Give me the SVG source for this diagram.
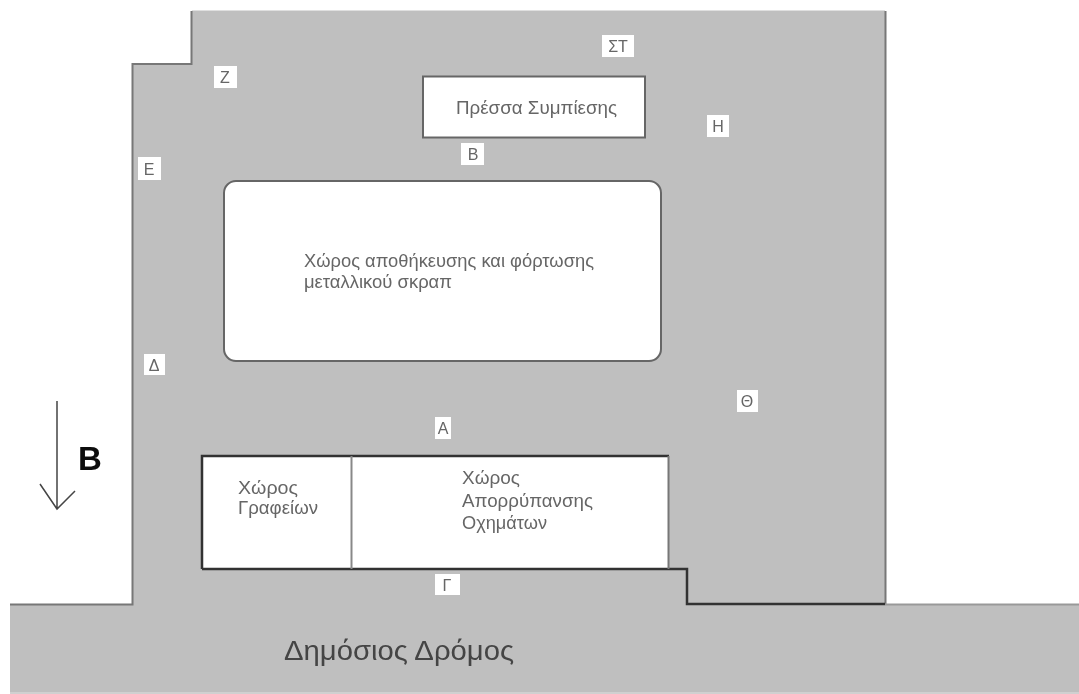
<svg xmlns="http://www.w3.org/2000/svg" width="1079" height="694" viewBox="0 0 1079 694">
<defs><filter id="soft" x="0" y="0" width="100%" height="100%"><feGaussianBlur stdDeviation="0.6"/></filter></defs>
<style>
text{font-family:"Liberation Sans",Arial,sans-serif;fill:#666;font-size:17.500px}
.tag{fill:#fff;stroke:none}
text.t{font-size:16px;text-anchor:middle;fill:#666}
.box{fill:#fff;stroke:#666;stroke-width:2}
.dk{fill:none;stroke:#333;stroke-width:2.500}
.ln{fill:none;stroke:#777;stroke-width:2}
</style>
<rect width="1079" height="694" fill="#fff"/>
<g filter="url(#soft)">
<g id="site">
<path d="M192 10.500H885V604H1079V692H10V604H132V64H192Z" fill="#bfbfbf"/>
<rect x="10" y="692" width="1069" height="2" fill="#d0d0d0"/>
<path class="ln" d="M10 604.500H132.500V64H191.500V11M885.500 11V604"/>
<path d="M885 604.500H1079" fill="none" stroke="#999" stroke-width="2"/>
<path class="dk" d="M669 569H687V604H885"/>
</g>
<g id="press"><rect class="box" x="423" y="76.500" width="222" height="61"/><text x="456" y="114" textLength="161" lengthAdjust="spacingAndGlyphs">Πρέσσα Συμπίεσης</text></g>
<g id="storage"><rect class="box" x="224" y="181" width="437" height="180" rx="12"/>
<text x="304" y="267" textLength="290" lengthAdjust="spacingAndGlyphs">Χώρος αποθήκευσης και φόρτωσης</text><text x="304" y="288" textLength="148" lengthAdjust="spacingAndGlyphs">μεταλλικού σκραπ</text></g>
<g id="offices"><rect x="202" y="456" width="150" height="113" fill="#fff"/><text x="238" y="494" textLength="60" lengthAdjust="spacingAndGlyphs">Χώρος</text><text x="238" y="514" textLength="80" lengthAdjust="spacingAndGlyphs">Γραφείων</text></g>
<g id="washing"><rect x="352" y="456" width="317" height="113" fill="#fff"/><text x="462" y="484" textLength="58" lengthAdjust="spacingAndGlyphs">Χώρος</text><text x="462" y="507" textLength="131" lengthAdjust="spacingAndGlyphs">Απορρύπανσης</text><text x="462" y="529" textLength="85" lengthAdjust="spacingAndGlyphs">Οχημάτων</text></g>
<g id="walls">
<path class="dk" d="M202 569V456H669"/><path class="dk" d="M202 569H669"/><path class="ln" d="M668.500 456V569"/><path d="M351.500 456V569" fill="none" stroke="#888" stroke-width="2"/>
</g>
<g id="labels">
<g id="label-st"><rect class="tag" x="602" y="35" width="32" height="22"/><text class="t" x="618" y="52">ΣΤ</text></g>
<g id="label-z"><rect class="tag" x="214" y="66" width="23" height="22"/><text class="t" x="225" y="83">Ζ</text></g>
<g id="label-h"><rect class="tag" x="707" y="115" width="22" height="22"/><text class="t" x="718" y="132">Η</text></g>
<g id="label-b"><rect class="tag" x="461" y="143" width="23" height="22"/><text class="t" x="473" y="160">Β</text></g>
<g id="label-e"><rect class="tag" x="138" y="157" width="23" height="23"/><text class="t" x="149" y="175">Ε</text></g>
<g id="label-d"><rect class="tag" x="144" y="354" width="21" height="21"/><text class="t" x="154" y="371">Δ</text></g>
<g id="label-th"><rect class="tag" x="737" y="390" width="21" height="22"/><text class="t" x="747" y="407">Θ</text></g>
<g id="label-a"><rect class="tag" x="435" y="417" width="16" height="22"/><text class="t" x="443" y="434">Α</text></g>
<g id="label-g"><rect class="tag" x="435" y="574" width="25" height="21"/><text class="t" x="447" y="591">Γ</text></g>
</g>
<g id="connectors"><path d="M57 401V509M40 484L57 509L75 491" fill="none" stroke="#444" stroke-width="1.500"/></g>
<text x="78" y="470" style="font-size:33px;font-weight:bold;fill:#111">Β</text>
<text x="284" y="660" textLength="230" lengthAdjust="spacingAndGlyphs" style="font-size:28px;fill:#444">Δημόσιος Δρόμος</text>
</g>
</svg>
